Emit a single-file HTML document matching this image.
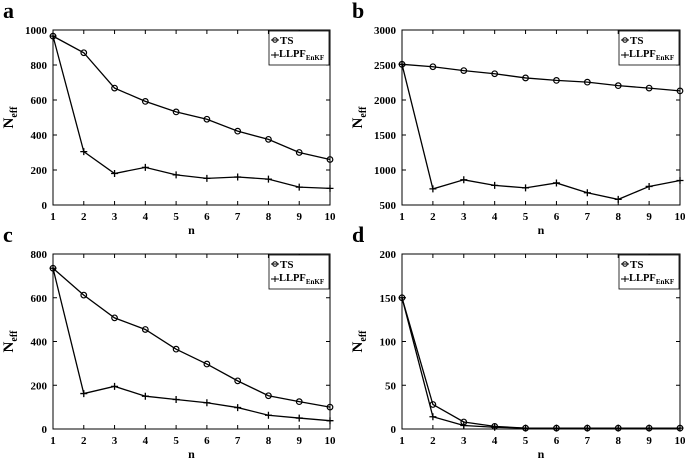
<!DOCTYPE html>
<html><head><meta charset="utf-8"><style>
body{margin:0;background:#fff;width:685px;height:460px;overflow:hidden}
svg text{font-family:"Liberation Serif","Times New Roman",serif;font-weight:bold;fill:#000}
</style></head><body>
<svg id="chart" width="685" height="460" xmlns="http://www.w3.org/2000/svg"></svg>
<script>
const categories=[1,2,3,4,5,6,7,8,9,10];
const tsA=[965,870,668,592,532,490,422,375,300,260];
const llA=[965,305,180,215,172,152,160,148,102,95];
const tsB=[2510,2475,2420,2375,2315,2280,2255,2205,2170,2130];
const llB=[2510,730,860,780,745,815,675,580,765,850];
const tsC=[735,612,508,455,365,297,220,152,125,100];
const llC=[735,162,195,150,135,120,98,63,50,38];
const tsD=[150,28,8,3,1,1,1,1,1,1];
const llD=[150,14,4,2,1,1,1,1,1,1];
const ticksA=[0,200,400,600,800,1000];
const ticksB=[500,1000,1500,2000,2500,3000];
const ticksC=[0,200,400,600,800];
const ticksD=[0,50,100,150,200];
const NS="http://www.w3.org/2000/svg";
const svg=document.getElementById('chart');
function mk(tag,attrs,parent){const e=document.createElementNS(NS,tag);for(const k in attrs)e.setAttribute(k,attrs[k]);(parent||svg).appendChild(e);return e;}
function panel(id,label,x0,x1,y0,y1,ticks,ts,ll){
  const g=mk('g',{});
  
  
  const ymin=ticks[0],ymax=ticks[ticks.length-1];
  const sx=v=>x0+(v-1)/(9)*(x1-x0);
  const sy=v=>y1-(v-ymin)/(ymax-ymin)*(y1-y0);
  const frame=mk('rect',{x:x0,y:y0,width:x1-x0,height:y1-y0,fill:'none',stroke:'#000','stroke-width':1},g);
  
  
  ticks.forEach(t=>{
    const y=sy(t);
    mk('line',{x1:x0,x2:x0+4,y1:y,y2:y,stroke:'#000'},g);
    mk('line',{x1:x1,x2:x1-4,y1:y,y2:y,stroke:'#000'},g);
    const tx=mk('text',{x:x0-6,y:y+4,'font-size':11,'text-anchor':'end'},g);
    tx.textContent=t;
    
    
  });
  categories.forEach(c=>{
    const x=sx(c);
    mk('line',{x1:x,x2:x,y1:y1,y2:y1-4,stroke:'#000'},g);
    mk('line',{x1:x,x2:x,y1:y0,y2:y0+4,stroke:'#000'},g);
    const tx=mk('text',{x:x,y:y1+15,'font-size':11,'text-anchor':'middle'},g);
    tx.textContent=c;
    
    
  });
  const xl=mk('text',{x:(x0+x1)/2,y:y1+29,'font-size':12,'text-anchor':'middle'},g);
  xl.textContent='n';
  
  
  const yl=mk('text',{transform:`translate(${x0-40},${(y0+y1)/2}) rotate(-90)`,'font-size':15,'text-anchor':'middle'},g);
  yl.innerHTML='N<tspan font-size="10" dy="4">eff</tspan>';
  
  
  const pl=mk('text',{x:x0-50,y:y0-12,'font-size':22},g);
  pl.textContent=label;
  
  
  const l1=mk('polyline',{points:ts.map((v,i)=>sx(categories[i])+','+sy(v)).join(' '),fill:'none',stroke:'#000','stroke-width':1.3},g);
  
  
  const l2=mk('polyline',{points:ll.map((v,i)=>sx(categories[i])+','+sy(v)).join(' '),fill:'none',stroke:'#000','stroke-width':1.3},g);
  
  
  ts.forEach((v,i)=>{
    const c=mk('circle',{cx:sx(categories[i]),cy:sy(v),r:2.8,fill:'none',stroke:'#000','stroke-width':1.2},g);
    
    
  });
  ll.forEach((v,i)=>{
    const x=sx(categories[i]),y=sy(v);
    const p=mk('path',{d:`M${x-3.5},${y}H${x+3.5}M${x},${y-3.5}V${y+3.5}`,stroke:'#000','stroke-width':1.3},g);
    
    
  });
  const lg=mk('g',{},g);
  
  
  const lx=x1-61,ly=y0+1;
  mk('rect',{x:lx,y:ly,width:60,height:34,fill:'#fff',stroke:'#000','stroke-width':0.8},lg);
  mk('line',{x1:lx+2,x2:lx+10,y1:ly+9,y2:ly+9,stroke:'#000'},lg);
  mk('circle',{cx:lx+6,cy:ly+9,r:2.3,fill:'none',stroke:'#000'},lg);
  const t1=mk('text',{x:lx+11,y:ly+13,'font-size':11},lg);
  t1.textContent='TS';
  
  
  mk('path',{d:`M${lx+2},${ly+24}H${lx+10}M${lx+6},${ly+21}V${ly+27}`,stroke:'#000'},lg);
  const t2=mk('text',{x:lx+10,y:ly+26,'font-size':10.5},lg);
  t2.innerHTML='LLPF<tspan font-size="7" dy="3">EnKF</tspan>';
  
  
}
panel('a','a',53,330,30,205,ticksA,tsA,llA);
panel('b','b',402,680,30,205,ticksB,tsB,llB);
panel('c','c',53,330,254,429,ticksC,tsC,llC);
panel('d','d',402,680,254,429,ticksD,tsD,llD);
</script>
</body></html>
